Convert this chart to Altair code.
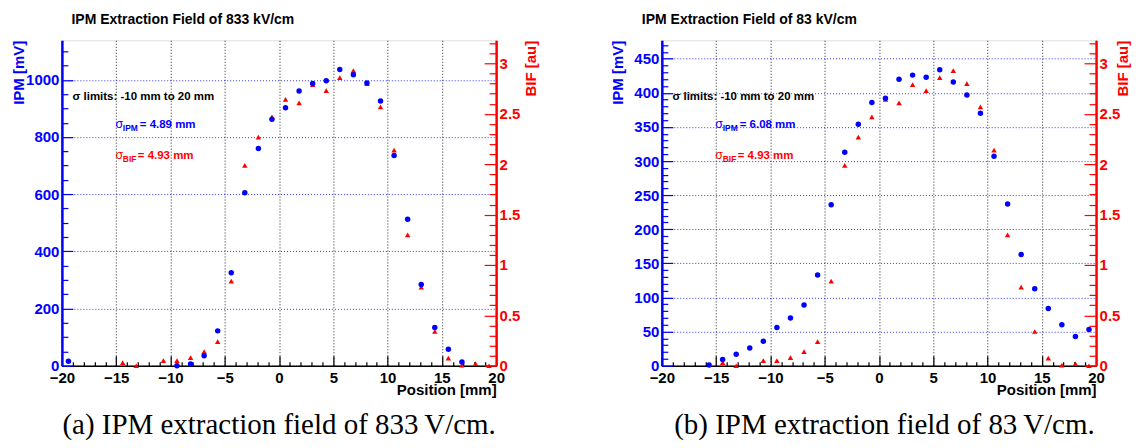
import altair as alt
import pandas as pd

# ---------------- data ----------------
# panel (a): 833 V/cm
pos_ipm_a = [-19.4, -9.4, -8.15, -6.9, -5.65, -4.4, -3.15, -1.9, -0.65, 0.6, 1.85, 3.1,
             4.35, 5.6, 6.85, 8.1, 9.35, 10.6, 11.85, 13.1, 14.35, 15.6, 16.85]
ipm_a = [16, 0, 6, 35, 122, 325, 605, 760, 862, 902, 961, 987,
         997, 1036, 1018, 989, 926, 735, 512, 284, 134, 58, 13]

# panel (b): 83 V/cm
pos_ipm_b = [-15.65, -14.4, -13.15, -11.9, -10.65, -9.4, -8.15, -6.9, -5.65, -4.4, -3.15,
             -1.9, -0.65, 0.6, 1.85, 3.1, 4.35, 5.6, 6.85, 8.1, 9.35, 10.6, 11.85, 13.1,
             14.35, 15.6, 16.85, 18.1, 19.35]
ipm_b = [1, 9, 17, 26, 36, 56, 70, 89, 133, 236, 313,
         354, 386, 392, 420, 426, 423, 434, 416, 397, 370, 307, 237, 163,
         113, 84, 60, 43, 53]

# BIF (same beam profile in both panels)
pos_bif = [-14.4, -13.15, -10.65, -9.4, -8.15, -6.9, -5.65, -4.4, -3.15, -1.9, -0.65, 0.6,
           1.85, 3.1, 4.35, 5.6, 6.85, 8.1, 9.35, 10.6, 11.85, 13.1, 14.35, 15.6, 16.85,
           18.1, 19.35]
bif = [0.03, 0.0, 0.05, 0.05, 0.08, 0.14, 0.24, 0.84, 1.99, 2.27, 2.47, 2.645,
       2.61, 2.79, 2.73, 2.86, 2.93, 2.80, 2.57, 2.14, 1.30, 0.78, 0.34, 0.076, 0.005,
       0.02, 0.0]

x_major = [-20, -15, -10, -5, 0, 5, 10, 15, 20]
x_minor = list(range(-20, 21))
bif_major = [0, 0.5, 1, 1.5, 2, 2.5, 3]
bif_minor = [round(i * 0.1, 1) for i in range(0, 33)]

titles = ["IPM Extraction Field of 833 kV/cm", "IPM Extraction Field of 83 kV/cm"]
captions = ["(a) IPM extraction field of 833\u2009V/cm.", "(b) IPM extraction field of 83\u2009V/cm."]
sigma_ipm = ["= 4.89 mm", "= 6.08 mm"]
sigma_bif = ["= 4.93 mm", "= 4.93 mm"]

W, H = 435, 326
BLUE = "#0000ff"
RED = "#ff0000"
FONT = "Liberation Sans"


def txt(s, x, y, size, color, weight="bold", font=FONT, align="left", baseline="alphabetic"):
    return alt.Chart(pd.DataFrame({"t": [s]})).mark_text(
        align=align, baseline=baseline, font=font, fontSize=size,
        fontWeight=weight, color=color
    ).encode(x=alt.value(x), y=alt.value(y), text="t:N")


def panel(pos_ipm, ipm, ipm_max, ipm_major, ipm_minor, major_test, k,
          title_x, ipm_title_x, bif_title_x, caption_x):
    dfi = pd.DataFrame({"x": pos_ipm, "y": ipm})
    dfb = pd.DataFrame({"x": pos_bif, "y": bif})
    xs = alt.Scale(domain=[-20, 20], nice=False, zero=False)
    ys_i = alt.Scale(domain=[0, ipm_max], nice=False, zero=False)
    ys_b = alt.Scale(domain=[0, 3.23], nice=False, zero=False)

    x_label_axis = alt.Axis(
        orient="bottom", values=x_major, ticks=False, tickSize=0, labelPadding=5,
        labelFont=FONT, labelFontSize=15, labelFontWeight="bold", labelColor="black",
        labelFlush=False, labelOverlap=False, domainColor="black", domainWidth=1.5,
        grid=True, gridColor="#222222", gridDash=[1, 2], gridWidth=1, format="d",
        title="Position [mm]", titleFont=FONT, titleFontSize=15, titleFontWeight="bold",
        titleColor="black", titleX=W, titleY=29, titleAlign="right",
        titleBaseline="alphabetic")
    x_tick_axis = alt.Axis(
        orient="top", offset=-H, values=x_minor, labels=False, domain=False, grid=False,
        tickColor="black", tickWidth=1.2,
        tickSize={"condition": {"test": "datum.value % 5 === 0", "value": 10}, "value": 4},
        title=None)

    ipm_label_axis = alt.Axis(
        orient="left", values=ipm_major, ticks=False, tickSize=0, labelPadding=3,
        labelFont=FONT, labelFontSize=15, labelFontWeight="bold", labelColor=BLUE,
        labelFlush=False, labelOverlap=False, domainColor=BLUE, domainWidth=2.5,
        grid=True, gridColor=BLUE, gridDash=[1, 2], gridWidth=1, gridOpacity=0.8,
        format="d",
        title="IPM [mV]", titleFont=FONT, titleFontSize=15, titleFontWeight="bold",
        titleColor=BLUE, titleAngle=270, titleX=ipm_title_x, titleY=0,
        titleAlign="right", titleBaseline="middle")
    ipm_tick_axis = alt.Axis(
        orient="right", offset=-W, values=ipm_minor, labels=False, domain=False, grid=False,
        tickColor=BLUE, tickWidth=1.2,
        tickSize={"condition": {"test": major_test, "value": 11}, "value": 6},
        title=None)

    bif_label_axis = alt.Axis(
        orient="right", values=bif_major, ticks=False, tickSize=0, labelPadding=3,
        labelFont=FONT, labelFontSize=15, labelFontWeight="bold", labelColor=RED,
        labelFlush=False, labelOverlap=False, domainColor=RED, domainWidth=2.5,
        grid=False, format="~g",
        title="BIF [au]", titleFont=FONT, titleFontSize=15, titleFontWeight="bold",
        titleColor=RED, titleAngle=270, titleX=bif_title_x, titleY=0,
        titleAlign="right", titleBaseline="middle")
    bif_tick_axis = alt.Axis(
        orient="left", offset=-W, values=bif_minor, labels=False, domain=False, grid=False,
        tickColor=RED, tickWidth=1.2,
        tickSize={"condition": {"test": "abs(datum.value*2 - round(datum.value*2)) < 0.001",
                                "value": 12}, "value": 7},
        title=None)

    bif_ticks = alt.Chart(dfb).mark_point(opacity=0).encode(
        x=alt.X("x:Q", scale=xs, axis=None),
        y=alt.Y("y:Q", scale=ys_b, axis=bif_tick_axis))
    bif_pts = alt.Chart(dfb).mark_point(shape="triangle-up", filled=True, size=30,
                                        color=RED, opacity=1).encode(
        x=alt.X("x:Q", scale=xs, axis=x_label_axis),
        y=alt.Y("y:Q", scale=ys_b, axis=bif_label_axis))
    ipm_ticks = alt.Chart(dfi).mark_point(opacity=0).encode(
        x=alt.X("x:Q", scale=xs, axis=x_tick_axis),
        y=alt.Y("y:Q", scale=ys_i, axis=ipm_tick_axis))
    ipm_pts = alt.Chart(dfi).mark_point(shape="circle", filled=True, size=30,
                                        color=BLUE, opacity=1).encode(
        x=alt.X("x:Q", scale=xs, axis=None),
        y=alt.Y("y:Q", scale=ys_i, axis=ipm_label_axis))

    texts = [
        txt(titles[k], title_x, -16.2, 14, "black"),
        txt("\u03c3 limits: -10 mm to 20 mm", 10.6, 59.5, 11.5, "black"),
        txt("\u03c3", 53.6, 88, 12.5, BLUE, weight="normal"),
        txt("IPM", 61, 91, 8.5, BLUE),
        txt(sigma_ipm[k], 78, 88, 11.5, BLUE),
        txt("\u03c3", 53.6, 118.5, 12.5, RED, weight="normal"),
        txt("BIF", 61, 121.5, 8.5, RED),
        txt(sigma_bif[k], 76, 118.5, 11.5, RED),
        txt(captions[k], caption_x, 394.3, 29, "black", weight="normal",
            font="Liberation Serif", align="center"),
    ]

    return alt.layer(bif_ticks, bif_pts, ipm_ticks, ipm_pts, *texts).resolve_scale(
        y="independent").resolve_axis(x="independent", y="independent").properties(
        width=W, height=H)


ipm_major_a = [0, 200, 400, 600, 800, 1000]
ipm_minor_a = list(range(0, 1150, 50))
ipm_major_b = [0, 50, 100, 150, 200, 250, 300, 350, 400, 450]
ipm_minor_b = list(range(0, 480, 10))

left = panel(pos_ipm_a, ipm_a, 1138, ipm_major_a, ipm_minor_a,
             "datum.value % 200 === 0", 0, 9.6, -43.6, 34.7, 217.6)
right = panel(pos_ipm_b, ipm_b, 477, ipm_major_b, ipm_minor_b,
              "datum.value % 50 === 0", 1, -20, -44.8, 26.0, 223)

chart = alt.hconcat(left, right, spacing=166, bounds="flush").properties(
    padding={"left": 2, "top": 4, "right": 0, "bottom": 0}
).configure_view(stroke="#222222", strokeWidth=1.5).configure(font=FONT)

chart.save("out.html", embed_options={"renderer": "svg", "actions": False})
